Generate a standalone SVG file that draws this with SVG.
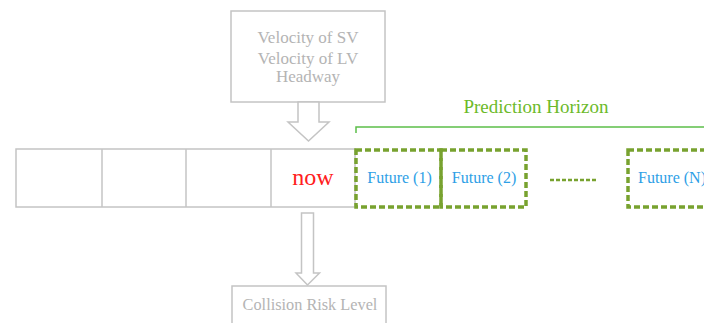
<svg xmlns="http://www.w3.org/2000/svg" width="704" height="323" viewBox="0 0 704 323">
<style>
text{font-family:"Liberation Serif","Times New Roman","DejaVu Serif",serif}
.box{fill:#fff;stroke:#c4c4c4;stroke-width:1.5}
.gtxt{font-size:17px;fill:#b4b4b4;text-anchor:middle}
.fut{fill:none;stroke:#78a22f;stroke-width:3.5;stroke-dasharray:6,3}
.ftxt{font-size:16px;fill:#2ea0e6;text-anchor:middle}
</style>
<rect width="704" height="323" fill="#fff"/>
<g id="inputs">
<rect class="box" x="231" y="11" width="154" height="91"/>
<text class="gtxt" x="308" y="43">Velocity of SV</text>
<text class="gtxt" x="308" y="64">Velocity of LV</text>
<text class="gtxt" x="308" y="82">Headway</text>
</g>
<g id="timeline">
<rect class="box" x="16" y="149" width="339" height="58"/>
<line class="box" x1="102" y1="149" x2="102" y2="207"/>
<line class="box" x1="186" y1="149" x2="186" y2="207"/>
<line class="box" x1="271" y1="149" x2="271" y2="207"/>
<text x="313" y="185" font-size="24" fill="#ff2020" text-anchor="middle">now</text>
</g>
<g id="future1">
<rect class="fut" x="356" y="150" width="85" height="57"/>
<text class="ftxt" x="399.5" y="183">Future (1)</text>
</g>
<g id="future2">
<rect class="fut" x="441" y="150" width="85" height="57"/>
<text class="ftxt" x="484" y="183">Future (2)</text>
</g>
<g id="dots">
<line x1="550" y1="180" x2="598" y2="180" stroke="#78a22f" stroke-width="2.5" stroke-dasharray="4,2"/>
</g>
<g id="futureN">
<rect class="fut" x="628" y="150" width="90" height="57"/>
<text class="ftxt" x="638" y="183" style="text-anchor:start">Future (N)</text>
</g>
<g id="horizon">
<polyline points="356,133 356,127 704,127" fill="none" stroke="#5cbf4a" stroke-width="1.5"/>
<text x="536" y="113" font-size="19" fill="#6cba2a" text-anchor="middle">Prediction Horizon</text>
</g>
<g id="output">
<rect class="box" x="232" y="286" width="154" height="50"/>
<text class="gtxt" x="310" y="310" style="font-size:16.3px">Collision Risk Level</text>
</g>
<g id="connectors">
<polygon class="box" points="298,102 319,102 319,122 329,122 308.5,141 288,122 298,122"/>
<polygon class="box" points="301.5,213 313.5,213 313.5,273 319.5,273 307.5,285 296,273 301.5,273"/>
</g>
</svg>
